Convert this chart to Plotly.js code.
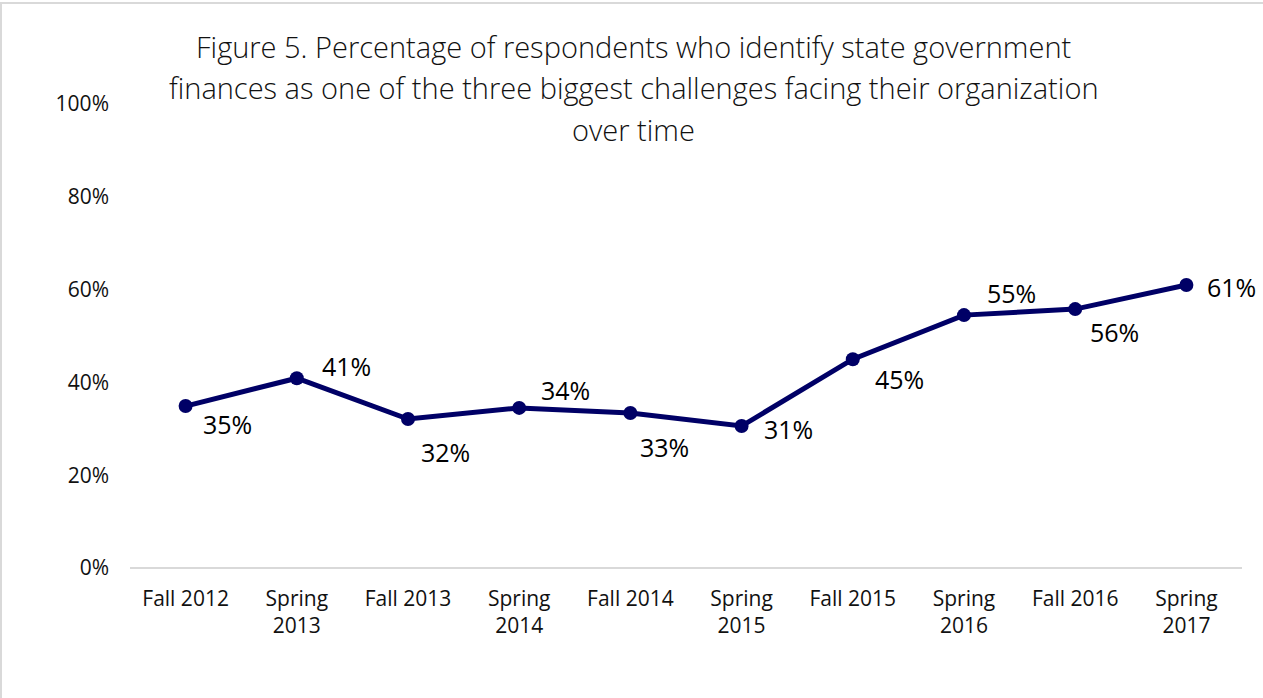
<!DOCTYPE html>
<html>
<head>
<meta charset="utf-8">
<script src="https://cdn.plot.ly/plotly-3.0.1.min.js"></script>
<style>
  html, body { margin: 0; padding: 0; background: #ffffff; }
  #wrap { position: relative; width: 1263px; height: 698px; overflow: hidden; }
  #chart { width: 1263px; height: 698px; }
  #frame { position: absolute; left: 0; top: 2px; width: 1300px; height: 800px;
           border-left: 2px solid #d9d9d9; border-top: 2px solid #d9d9d9; pointer-events: none; }
</style>
</head>
<body>
<div id="wrap">
  <div id="chart"></div>
  <div id="frame"></div>
</div>
<script>
// ---- data ----
const categories = ["Fall 2012", "Spring 2013", "Fall 2013", "Spring 2014", "Fall 2014",
                    "Spring 2015", "Fall 2015", "Spring 2016", "Fall 2016", "Spring 2017"];
const tickLabels = ["Fall 2012", "Spring<br>2013", "Fall 2013", "Spring<br>2014", "Fall 2014",
                    "Spring<br>2015", "Fall 2015", "Spring<br>2016", "Fall 2016", "Spring<br>2017"];
const values = [0.349, 0.409, 0.321, 0.345, 0.334, 0.306, 0.450, 0.545, 0.558, 0.610];
const valueLabels = ["35%", "41%", "32%", "34%", "33%", "31%", "45%", "55%", "56%", "61%"];
const titleLines = [
  "Figure 5. Percentage of respondents who identify state government",
  "finances as one of the three biggest challenges facing their organization",
  "over time"
];

// ---- styles (label offsets in pixels) ----
const labelDx = [42, 50, 37, 46, 34, 47, 47, 47, 39, 45];
const labelDy = [18, -12, 33, -18, 34, 3, 20, -22, 23, 2];
const titleY = [1.125, 1.0345, 0.944];

const FONT = "'Open Sans', 'Noto Sans', sans-serif";
const navy = "#000066";

const annotations = [];
values.forEach((v, i) => {
  annotations.push({
    x: categories[i], y: v, xref: "x", yref: "y",
    text: valueLabels[i], showarrow: false,
    xshift: labelDx[i], yshift: -labelDy[i],
    font: { family: FONT, size: 25, color: "#000000" }
  });
});
titleLines.forEach((t, i) => {
  annotations.push({
    x: 0.453, y: titleY[i], xref: "paper", yref: "paper",
    xanchor: "center", yanchor: "middle",
    text: t, showarrow: false,
    font: { family: FONT, size: 29, color: "#111111", weight: 300 }
  });
});

const trace = {
  type: "scatter",
  mode: "lines+markers",
  x: categories,
  y: values,
  line: { color: navy, width: 5 },
  marker: { color: navy, size: 14 },
  hoverinfo: "x+y"
};

const layout = {
  width: 1263, height: 698,
  margin: { l: 130, r: 21, t: 104, b: 130 },
  paper_bgcolor: "#ffffff",
  plot_bgcolor: "#ffffff",
  showlegend: false,
  font: { family: FONT, size: 21, color: "#111111" },
  xaxis: {
    type: "category",
    tickmode: "array",
    tickvals: categories,
    ticktext: tickLabels,
    range: [-0.5, 9.5],
    showgrid: false, zeroline: false,
    showline: false,
    ticks: "",
    ticklabelstandoff: 16,
    tickfont: { family: FONT, size: 21, color: "#111111" }
  },
  yaxis: {
    range: [0, 1],
    tickvals: [0, 0.2, 0.4, 0.6, 0.8, 1.0],
    tickformat: ".0%",
    showgrid: false,
    zeroline: true, zerolinecolor: "#d9d9d9", zerolinewidth: 2,
    showline: false, ticks: "",
    ticklabelstandoff: 20,
    tickfont: { family: FONT, size: 21, color: "#111111" }
  },
  annotations: annotations
};

Plotly.newPlot("chart", [trace], layout, { displayModeBar: false, staticPlot: true });
</script>
</body>
</html>
